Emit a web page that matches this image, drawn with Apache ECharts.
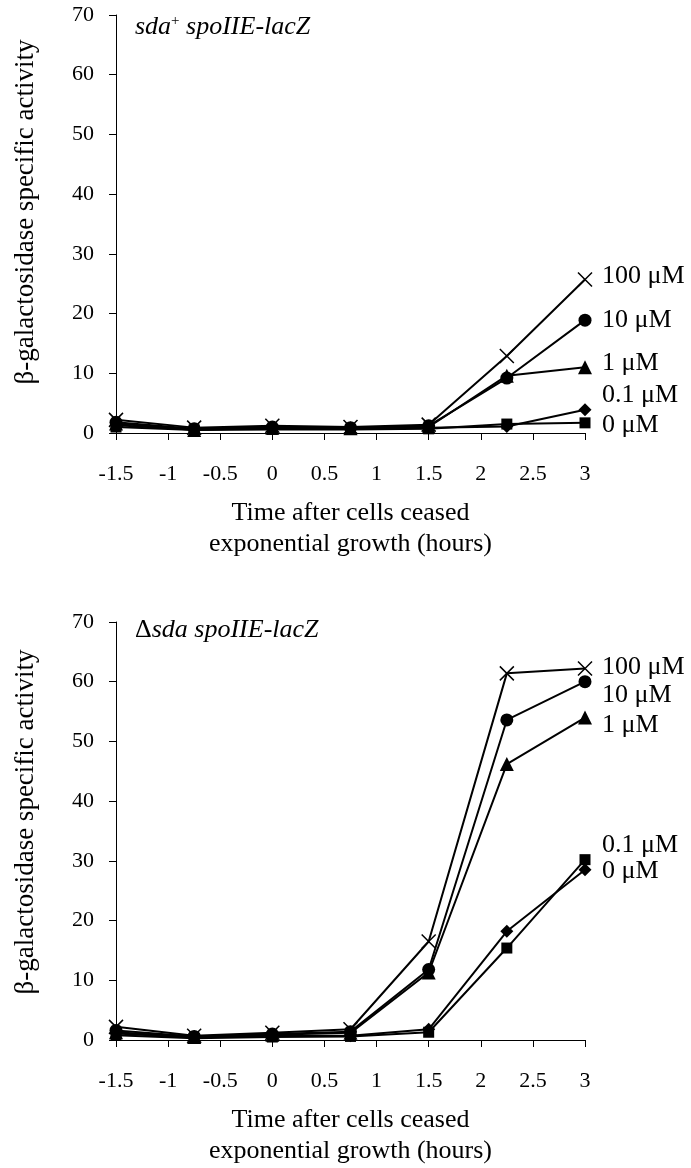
<!DOCTYPE html>
<html>
<head>
<meta charset="utf-8">
<script src="https://cdn.jsdelivr.net/npm/echarts@6/dist/echarts.min.js"></script>
<style>
html, body { margin: 0; background: #fff; }
#chart { width: 691px; height: 1168px; }
</style>
</head>
<body>
<div id="chart"></div>
<script>
'use strict';
// time points (hours after exponential growth ended)
var hours = [-1.5, -0.75, 0, 0.75, 1.5, 2.25, 3];
var xTicks = [-1.5, 3, 0.5]; // min, max, interval
var doseNames = ['100 μM', '10 μM', '1 μM', '0.1 μM', '0 μM'];

// top panel: sda+ spoIIE-lacZ
var sdaPlus100 = [2.2, 0.9, 1.2, 1.0, 1.4, 12.9, 25.7];
var sdaPlus10  = [1.8, 0.7, 1.0, 0.9, 1.2, 9.2, 18.9];
var sdaPlus1   = [1.6, 0.5, 0.9, 0.8, 1.0, 9.6, 11.0];
var sdaPlus01  = [1.3, 0.6, 0.9, 0.8, 0.9, 1.1, 3.9];
var sdaPlus0   = [1.0, 0.5, 0.6, 0.6, 0.7, 1.5, 1.7];

// bottom panel: delta-sda spoIIE-lacZ
var sdaDel100 = [2.2, 0.7, 1.2, 1.8, 16.5, 61.4, 62.2];
var sdaDel10  = [1.6, 0.6, 1.0, 1.4, 11.8, 53.6, 60.0];
var sdaDel1   = [1.3, 0.5, 0.9, 1.2, 11.3, 46.2, 54.0];
var sdaDel01  = [1.1, 0.4, 0.7, 0.7, 1.8, 18.2, 28.5];
var sdaDel0   = [0.8, 0.3, 0.5, 0.6, 1.3, 15.4, 30.2];

var serifFont = '"Liberation Serif", "Times New Roman", serif';
var symbols = ['path://M0,0L10,10M10,0L0,10', 'circle', 'triangle', 'diamond', 'rect'];
var symbolSizes = [14, 13, 14, 13, 11];

function pairs(vals) {
    var out = [];
    for (var i = 0; i < hours.length; i++) {
        out.push([hours[i], vals[i]]);
    }
    return out;
}

function makeSeries(idx, lists) {
    var arr = [];
    for (var i = 0; i < lists.length; i++) {
        var cross = i === 0;
        arr.push({
            name: doseNames[i],
            type: 'line',
            xAxisIndex: idx,
            yAxisIndex: idx,
            data: pairs(lists[i]),
            symbol: symbols[i],
            symbolSize: symbolSizes[i],
            showAllSymbol: true,
            lineStyle: { color: '#000', width: 2 },
            itemStyle: cross
                ? { color: 'rgba(0,0,0,0)', borderColor: '#000', borderWidth: 1.5 }
                : { color: '#000', borderWidth: 0 },
            animation: false,
            z: 2 + i
        });
    }
    return arr;
}

function xAxisOpt(idx) {
    return {
        type: 'value',
        gridIndex: idx,
        min: xTicks[0],
        max: xTicks[1],
        interval: xTicks[2],
        axisLine: { lineStyle: { color: '#000', width: 1 } },
        axisTick: { inside: false, length: 7, lineStyle: { color: '#000' } },
        axisLabel: { color: '#000', fontFamily: serifFont, fontSize: 22, margin: 30 },
        splitLine: { show: false },
        name: 'Time after cells ceased\nexponential growth (hours)',
        nameLocation: 'middle',
        nameGap: 65,
        nameTextStyle: { color: '#000', fontFamily: serifFont, fontSize: 26, lineHeight: 31 }
    };
}

function yAxisOpt(idx) {
    return {
        type: 'value',
        gridIndex: idx,
        min: 0,
        max: 70,
        interval: 10,
        axisLine: { show: true, onZero: false, lineStyle: { color: '#000', width: 1 } },
        axisTick: { show: true, length: 7, lineStyle: { color: '#000' } },
        axisLabel: { color: '#000', fontFamily: serifFont, fontSize: 22, margin: 22 },
        splitLine: { show: false }
    };
}

function textEl(txt, x, y) {
    return {
        type: 'text',
        x: x,
        y: y,
        style: {
            text: txt,
            font: '26px ' + serifFont,
            fill: '#000',
            align: 'left',
            verticalAlign: 'middle'
        }
    };
}

var yName = 'β-galactosidase specific activity';
var richTitle = {
    i: { fontFamily: serifFont, fontStyle: 'italic', fontSize: 26, color: '#000' },
    n: { fontFamily: serifFont, fontSize: 26, color: '#000' },
    sup: { fontFamily: serifFont, fontSize: 15, color: '#000', verticalAlign: 'top', padding: [0, 0, 12, 0] }
};

var graphics = [
    { type: 'text', x: 26, y: 212, rotation: Math.PI / 2,
      style: { text: yName, font: '27px ' + serifFont, fill: '#000', align: 'center', verticalAlign: 'middle' } },
    { type: 'text', x: 26, y: 822, rotation: Math.PI / 2,
      style: { text: yName, font: '27px ' + serifFont, fill: '#000', align: 'center', verticalAlign: 'middle' } },
    { type: 'text', x: 135, y: 27,
      style: { text: '{i|sda}{sup|+}{i| spoIIE-lacZ}', rich: richTitle, align: 'left', verticalAlign: 'middle' } },
    { type: 'text', x: 135, y: 630,
      style: { text: '{n|Δ}{i|sda spoIIE-lacZ}', rich: richTitle, align: 'left', verticalAlign: 'middle' } },
    // dose labels, top panel
    textEl(doseNames[0], 602, 276),
    textEl(doseNames[1], 602, 320),
    textEl(doseNames[2], 602, 363),
    textEl(doseNames[3], 602, 395),
    textEl(doseNames[4], 602, 425),
    // dose labels, bottom panel
    textEl(doseNames[0], 602, 667),
    textEl(doseNames[1], 602, 695),
    textEl(doseNames[2], 602, 725),
    textEl(doseNames[3], 602, 845),
    textEl(doseNames[4], 602, 871)
];

var myChart = echarts.init(document.getElementById('chart'));
var option = {
    backgroundColor: '#fff',
    animation: false,
    grid: [
        { left: 116, top: 15, width: 469, height: 418 },
        { left: 116, top: 622, width: 469, height: 420 }
    ],
    xAxis: [xAxisOpt(0), xAxisOpt(1)],
    yAxis: [yAxisOpt(0), yAxisOpt(1)],
    series: makeSeries(0, [sdaPlus100, sdaPlus10, sdaPlus1, sdaPlus01, sdaPlus0])
        .concat(makeSeries(1, [sdaDel100, sdaDel10, sdaDel1, sdaDel01, sdaDel0])),
    graphic: graphics
};
myChart.setOption(option);
</script>
</body>
</html>
